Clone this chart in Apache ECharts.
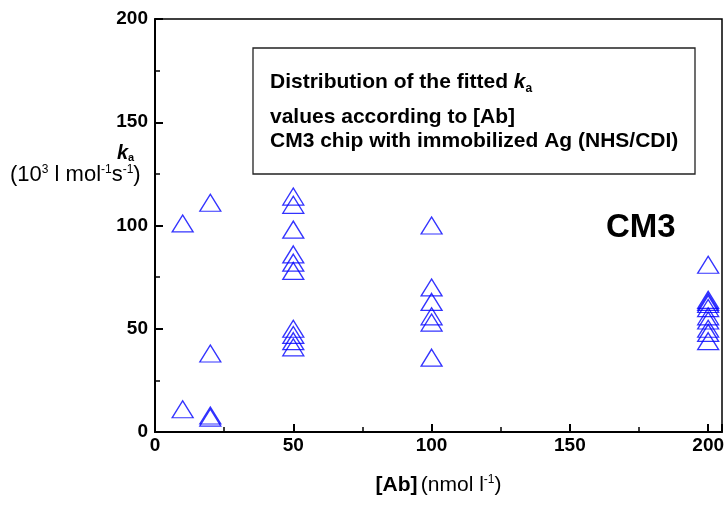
<!DOCTYPE html>
<html>
<head>
<meta charset="utf-8">
<script src="https://cdn.jsdelivr.net/npm/echarts@6/dist/echarts.min.js"></script>
<style>html,body{margin:0;padding:0;background:#fff;}#c{width:724px;height:505px;}</style>
</head>
<body>
<div id="c"></div>
<script>
// Data
const concentrations = [10, 20, 50, 100, 200];
const ka10 = [101, 11];
const ka20 = [111, 38, 8, 7];
const ka50 = [114, 110, 98, 86, 82, 78, 50, 47, 44, 41];
const ka100 = [100, 70, 63, 56, 53, 36];
const ka200 = [81, 64, 63, 62, 60, 56, 54, 50, 48, 44];
const xTicks = [0, 50, 100, 150, 200];
const yTicks = [0, 50, 100, 150, 200];

const groups = [ka10, ka20, ka50, ka100, ka200];
const points = [];
groups.forEach((vals, i) => vals.forEach(v => points.push([concentrations[i], v])));

const FONT = 'Liberation Sans, Arial, sans-serif';
const chart = echarts.init(document.getElementById('c'));
chart.setOption({
  backgroundColor: '#fff',
  animation: false,
  grid: { left: 155, right: 2, top: 19, bottom: 73, show: true, borderColor: '#000', borderWidth: 1.5,
    containLabel: false, outerBoundsMode: 'none' },
  xAxis: {
    type: 'value', min: 0, max: 205, interval: 50,
    axisLine: { show: true, lineStyle: { color: '#000', width: 2 } },
    axisTick: { show: true, inside: true, length: 8, lineStyle: { color: '#000', width: 2 } },
    minorTick: { show: true, splitNumber: 2, length: 5, lineStyle: { color: '#000', width: 1.5 } },
    splitLine: { show: false },
    axisLabel: { color: '#000', fontFamily: FONT, fontWeight: 'bold', fontSize: 19, margin: 4, showMaxLabel: false,
      formatter: v => (xTicks.indexOf(v) >= 0 ? String(v) : '') },
    name: '{b|[Ab]} {n|(nmol l}{s|-1}{n|)}',
    nameLocation: 'middle', nameGap: 42,
    nameTextStyle: { rich: {
      b: { fontFamily: FONT, fontWeight: 'bold', fontSize: 21, color: '#000' },
      n: { fontFamily: FONT, fontSize: 21, color: '#000' },
      s: { fontFamily: FONT, fontSize: 12, color: '#000', padding: [0, 0, 10, 0] }
    } }
  },
  yAxis: {
    type: 'value', min: 0, max: 200, interval: 50,
    axisLine: { show: true, lineStyle: { color: '#000', width: 2 } },
    axisTick: { show: true, inside: true, length: 8, lineStyle: { color: '#000', width: 2 } },
    minorTick: { show: true, splitNumber: 2, length: 5, lineStyle: { color: '#000', width: 1.5 } },
    splitLine: { show: false },
    axisLabel: { color: '#000', fontFamily: FONT, fontWeight: 'bold', fontSize: 19, margin: 7,
      formatter: v => (yTicks.indexOf(v) >= 0 ? String(v) : '') }
  },
  series: [{
    type: 'scatter',
    data: points,
    symbol: 'triangle',
    symbolSize: [21, 17],
    itemStyle: { color: 'rgba(0,0,0,0)', borderColor: '#0000ff', borderWidth: 1.3 },
    emphasis: { disabled: true }
  }],
  graphic: [
    { type: 'rect', shape: { x: 253, y: 48, width: 442, height: 126 },
      style: { fill: 'none', stroke: '#222', lineWidth: 1.3 } },
    { type: 'text', left: 270, top: 72,
      style: { text: '{t|Distribution of the fitted }{k|k}{s|a}', rich: {
        t: { fontFamily: FONT, fontWeight: 'bold', fontSize: 21, fill: '#000' },
        k: { fontFamily: FONT, fontWeight: 'bold', fontStyle: 'italic', fontSize: 21, fill: '#000' },
        s: { fontFamily: FONT, fontWeight: 'bold', fontSize: 12, fill: '#000', padding: [12, 0, 0, 0] }
      } } },
    { type: 'text', left: 270, top: 107,
      style: { text: 'values according to [Ab]', font: 'bold 21px ' + FONT, fill: '#000' } },
    { type: 'text', left: 270, top: 131,
      style: { text: 'CM3 chip with immobilized Ag (NHS/CDI)', font: 'bold 21px ' + FONT, fill: '#000' } },
    { type: 'text', left: 606, top: 211,
      style: { text: 'CM3', font: 'bold 33px ' + FONT, fill: '#000' } },
    { type: 'text', left: 117, top: 143,
      style: { text: '{k|k}{s|a}', rich: {
        k: { fontFamily: FONT, fontWeight: 'bold', fontStyle: 'italic', fontSize: 20, fill: '#000' },
        s: { fontFamily: FONT, fontWeight: 'bold', fontSize: 11, fill: '#000', padding: [10, 0, 0, 0] }
      } } },
    { type: 'text', left: 10, top: 164,
      style: { text: '{n|(10}{p|3}{n| l mol}{p|-1}{n|s}{p|-1}{n|)}', rich: {
        n: { fontFamily: FONT, fontSize: 22, fill: '#000' },
        p: { fontFamily: FONT, fontSize: 12, fill: '#000', padding: [0, 0, 10, 0] }
      } } }
  ]
});
</script>
</body>
</html>
